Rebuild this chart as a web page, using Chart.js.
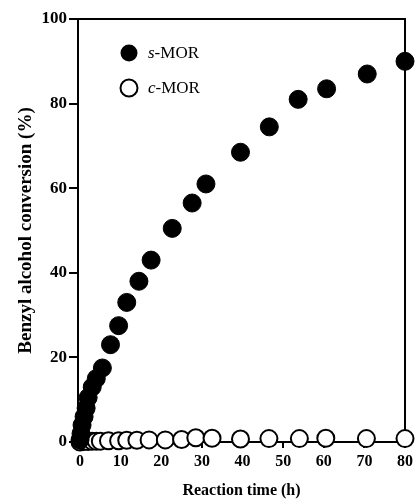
<!DOCTYPE html>
<html>
<head>
<meta charset="utf-8">
<script src="https://cdn.jsdelivr.net/npm/chart.js@4/dist/chart.umd.min.js"></script>
<style>
html,body{margin:0;padding:0;background:#fff;}
#wrap{width:417px;height:502px;}
</style>
</head>
<body>
<div id="wrap"><canvas id="c" width="417" height="502"></canvas></div>
<script>
const seriesNames = ['s-MOR', 'c-MOR'];
const sTimes = [0, 0.25, 0.5, 1, 1.5, 2, 3, 4, 5.5, 7.5, 9.5, 11.5, 14.5, 17.5, 22.7, 27.6, 31, 39.5, 46.6, 53.7, 60.7, 70.7, 80];
const sValues = [0.5, 2, 4, 6, 8, 10.5, 13, 15, 17.5, 23, 27.5, 33, 38, 43, 50.5, 56.5, 61, 68.5, 74.5, 81, 83.5, 87, 90];
const cTimes = [0, 1, 2, 3, 4, 5, 7, 9.5, 11.5, 14, 17, 21, 25, 28.5, 32.5, 39.5, 46.5, 54, 60.5, 70.5, 80];
const cValues = [0, 0.1, 0.1, 0.2, 0.2, 0.2, 0.3, 0.3, 0.4, 0.4, 0.5, 0.5, 0.6, 1.0, 0.9, 0.7, 0.8, 0.8, 0.9, 0.8, 0.8];
const xTicks = [0, 10, 20, 30, 40, 50, 60, 70, 80];
const yTicks = [0, 20, 40, 60, 80, 100];
const xTitle = 'Reaction time (h)';
const yTitle = 'Benzyl alcohol conversion (%)';

const serif = 'Liberation Serif';

const boxPlugin = {
  id: 'box',
  beforeDatasetsDraw(chart) {
    const a = chart.chartArea, ctx = chart.ctx;
    ctx.save();
    ctx.strokeStyle = '#000';
    ctx.lineWidth = 2;
    ctx.beginPath();
    ctx.moveTo(a.left, a.top);
    ctx.lineTo(a.right, a.top);
    ctx.lineTo(a.right, a.bottom);
    ctx.stroke();
    ctx.restore();
  }
};

const legendPlugin = {
  id: 'customLegend',
  afterDraw(chart) {
    const ctx = chart.ctx;
    ctx.save();
    const rows = [53, 88];
    seriesNames.forEach((name, i) => {
      const y = rows[i];
      ctx.beginPath();
      ctx.arc(129, y, 8.5, 0, Math.PI * 2);
      if (i === 0) { ctx.fillStyle = '#000'; ctx.fill(); }
      else { ctx.fillStyle = '#fff'; ctx.fill(); ctx.lineWidth = 2; ctx.strokeStyle = '#000'; ctx.stroke(); }
      const idx = name.indexOf('-');
      const pre = name.slice(0, idx), rest = name.slice(idx);
      ctx.fillStyle = '#000';
      ctx.textBaseline = 'middle';
      ctx.font = 'italic 17px "' + serif + '"';
      ctx.fillText(pre, 148, y + 1);
      const w = ctx.measureText(pre).width;
      ctx.font = '17px "' + serif + '"';
      ctx.fillText(rest, 148 + w, y + 1);
    });
    ctx.restore();
  }
};

new Chart(document.getElementById('c'), {
  type: 'scatter',
  data: {
    datasets: [
      {
        label: seriesNames[0],
        data: sTimes.map((t, i) => ({x: t, y: sValues[i]})),
        pointRadius: 9,
        pointBackgroundColor: '#000',
        pointBorderColor: '#000',
        pointBorderWidth: 1,
        showLine: false,
        clip: false
      },
      {
        label: seriesNames[1],
        data: cTimes.map((t, i) => ({x: t, y: cValues[i]})),
        pointRadius: 8.5,
        pointBackgroundColor: '#fff',
        pointBorderColor: '#000',
        pointBorderWidth: 2,
        showLine: false,
        clip: false
      }
    ]
  },
  options: {
    responsive: false,
    animation: false,
    devicePixelRatio: 1,
    layout: {padding: {top: 19, right: 8, left: 0, bottom: 0}},
    plugins: {legend: {display: false}, tooltip: {enabled: false}},
    scales: {
      x: {
        type: 'linear',
        min: -0.5,
        max: 80,
        afterBuildTicks: s => { s.ticks = xTicks.map(v => ({value: v})); },
        afterFit: s => { s.height = 60; },
        ticks: {
          font: {family: serif, weight: 'bold', size: 16},
          color: '#000',
          padding: 4,
          maxRotation: 0,
          autoSkip: false
        },
        grid: {drawOnChartArea: false, drawTicks: true, tickLength: 6, color: '#000', lineWidth: 2},
        border: {color: '#000', width: 2},
        title: {
          display: true,
          text: xTitle,
          color: '#000',
          font: {family: serif, weight: 'bold', size: 16},
          padding: {top: 0, bottom: 2}
        }
      },
      y: {
        type: 'linear',
        min: 0,
        max: 100,
        afterBuildTicks: s => { s.ticks = yTicks.map(v => ({value: v})); },
        afterFit: s => { s.width = 78; },
        ticks: {
          font: {family: serif, weight: 'bold', size: 17},
          color: '#000',
          padding: 2
        },
        grid: {drawOnChartArea: false, drawTicks: true, tickLength: 9, color: '#000', lineWidth: 2},
        border: {color: '#000', width: 2},
        title: {
          display: true,
          text: yTitle,
          color: '#000',
          font: {family: serif, weight: 'bold', size: 19},
          padding: {top: 15, bottom: 0}
        }
      }
    }
  },
  plugins: [boxPlugin, legendPlugin]
});
</script>
</body>
</html>
